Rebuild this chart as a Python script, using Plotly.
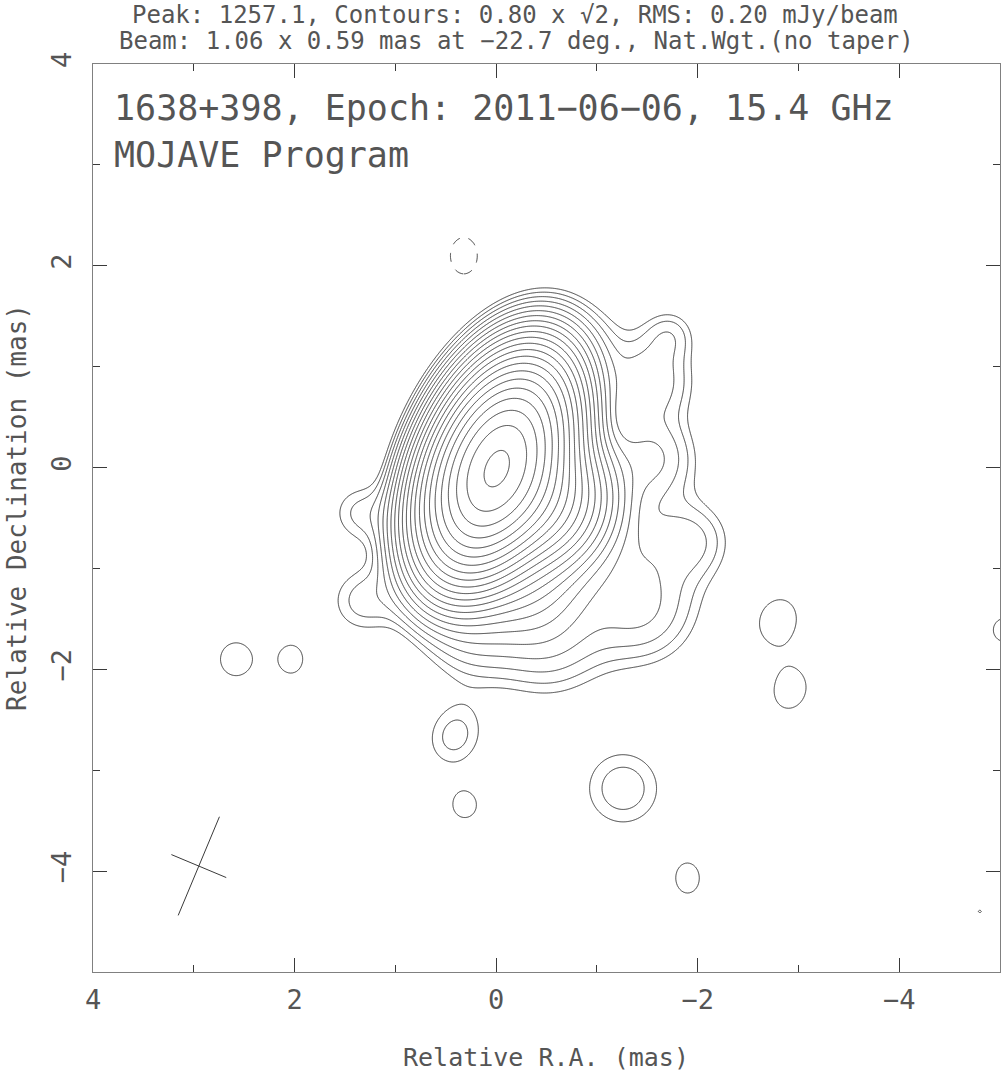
import numpy as np
import plotly.graph_objects as go

# Gaussian model components of the brightness distribution (mas, mJy/beam)
comp_x    = [0.00, -0.40, -0.20, -0.50, 0.25, -1.55, -1.55, -1.72, -1.95, -1.45, 1.32, 1.35,
             -1.30, -1.05,
             2.58, 2.03, 0.41, 0.31, -1.26, -1.90, -2.80, -2.92, -5.05, -4.80]
comp_y    = [0.00, -0.30, -1.00, -1.65, -1.70, 0.10, 0.85, 1.32, -0.72, -1.45, -1.32, -0.45,
             -0.90, 1.20,
             -1.90, -1.90, -2.66, -3.35, -3.18, -4.07, -1.52, -2.21, -1.61, -4.40]
comp_peak = [1215., 110., 10., 2.2, 1.5, 2.2, 2.0, 1.2, 1.3, 1.6, 1.3, 1.2,
             1.6, 0.6,
             1.08, 1.08, 1.30, 1.05, 1.42, 1.08, 1.08, 1.08, 1.08, 0.85]
comp_smaj = [0.49, 0.33, 0.35, 0.40, 0.30, 0.28, 0.28, 0.18, 0.25, 0.35, 0.25, 0.22,
             0.50, 0.30,
             0.21, 0.17, 0.26, 0.16, 0.31, 0.19, 0.27, 0.23, 0.15, 0.05]
comp_smin = [0.28, 0.33, 0.35, 0.40, 0.30, 0.28, 0.28, 0.18, 0.25, 0.35, 0.25, 0.22,
             0.50, 0.30,
             0.20, 0.14, 0.22, 0.15, 0.31, 0.15, 0.22, 0.19, 0.15, 0.05]
comp_pa   = [-22.7, 0, 0, 0, 0, 0, 0, 0, 0, 0, 0, 0,
             0, 0,
             0, 0, -20, 0, 0, 0, -20, -20, 0, 0]

# negative (dashed) feature
neg_x, neg_y, neg_peak, neg_smaj, neg_smin = [0.32], [2.10], [-1.0], [0.27], [0.20]

# contour levels: base * sqrt(2)^n
base_level = 0.80
n_levels = 22

# restoring beam
beam_maj, beam_min, beam_pa = 1.06, 0.59, -22.7
beam_pos = (2.95, -3.95)

x_ticks = [4, 2, 0, -2, -4]
y_ticks = [4, 2, 0, -2, -4]

header1 = "Peak: 1257.1, Contours: 0.80 x \u221a2, RMS: 0.20 mJy/beam"
header2 = "Beam: 1.06 x 0.59 mas at \u221222.7 deg., Nat.Wgt.(no taper)"
title1 = "1638+398, Epoch: 2011\u221206\u221206, 15.4 GHz"
title2 = "MOJAVE Program"

# ---------------- build image ----------------
gx = np.round(np.arange(-5.3, 4.3, 0.02), 4)
gy = np.round(np.arange(-5.3, 4.3, 0.02), 4)
X, Y = np.meshgrid(gx, gy)


def gauss(xc, yc, p, smaj, smin, pa):
    t = np.deg2rad(pa)
    dx, dy = X - xc, Y - yc
    u = dx * np.sin(t) + dy * np.cos(t)
    v = dx * np.cos(t) - dy * np.sin(t)
    return p * np.exp(-0.5 * ((u / smaj) ** 2 + (v / smin) ** 2))


Z = np.zeros_like(X)
for c in zip(comp_x, comp_y, comp_peak, comp_smaj, comp_smin, comp_pa):
    Z += gauss(*c)
Zn = np.zeros_like(X)
for c in zip(neg_x, neg_y, neg_peak, neg_smaj, neg_smin):
    Zn += gauss(*c, 0)

Zlog = np.where(Z > 1e-6, np.log2(np.clip(Z, 1e-6, None)), -30)
Znlog = np.where(Zn < -1e-6, np.log2(np.clip(-Zn, 1e-6, None)), -30)

lstart = np.log2(base_level)
lend = lstart + 0.5 * (n_levels - 1)

LC = "#3a3a3a"
fig = go.Figure()
fig.add_trace(go.Contour(
    x=gx, y=gy, z=Zlog,
    contours=dict(start=lstart, end=lend, size=0.5, coloring="lines"),
    colorscale=[[0, LC], [1, LC]], showscale=False,
    line=dict(width=1, smoothing=0), hoverinfo="skip"))
fig.add_trace(go.Contour(
    x=gx, y=gy, z=Znlog,
    contours=dict(start=lstart, end=lstart, size=0.5, coloring="lines"),
    colorscale=[[0, LC], [1, LC]], showscale=False,
    line=dict(width=1, dash="dash", smoothing=0), hoverinfo="skip"))

# beam cross
t = np.deg2rad(beam_pa)
bx, by = beam_pos
maj_dx, maj_dy = 0.5 * beam_maj * np.sin(t), 0.5 * beam_maj * np.cos(t)
min_dx, min_dy = 0.5 * beam_min * np.cos(t), -0.5 * beam_min * np.sin(t)
fig.add_trace(go.Scatter(x=[bx - maj_dx, bx + maj_dx, None, bx - min_dx, bx + min_dx],
                         y=[by - maj_dy, by + maj_dy, None, by - min_dy, by + min_dy],
                         mode="lines", line=dict(color=LC, width=1),
                         showlegend=False, hoverinfo="skip"))

FONT = "DejaVu Sans Mono"
TC = "#555555"
AX = "#808080"
axis_common = dict(showgrid=False, zeroline=False, showline=True, linecolor=AX, linewidth=1,
                   mirror="ticks", ticks="inside", ticklen=14, tickwidth=1, tickcolor=LC,
                   minor=dict(ticks="inside", ticklen=7, dtick=1, tickcolor=LC, tickwidth=1),
                   tickfont=dict(family=FONT, size=27, color=TC, weight=300))
fig.update_xaxes(range=[4, -5], tickvals=x_ticks, ticklabelstandoff=4, **axis_common)
fig.update_yaxes(range=[-5, 4], tickvals=y_ticks, tickangle=-90, ticklabelstandoff=10,
                 **axis_common)


# plot area (page px): x 93..1000, y 64..972
def px2paper_x(px):
    return (px - 93) / 907.0


def py2paper_y(py):
    return (972 - py) / 908.0


def note(text, px, py, size, xanchor="center", angle=0):
    return dict(text=text, x=px2paper_x(px), y=py2paper_y(py), xref="paper", yref="paper",
                showarrow=False, xanchor=xanchor, yanchor="middle", textangle=angle,
                font=dict(family=FONT, size=size, color=TC, weight=300))


ann = [
    note(header1, 515, 15, 24),
    note(header2, 516, 41, 24),
    note(title1, 112, 108, 35, xanchor="left"),
    note(title2, 112, 155, 35, xanchor="left"),
    note("Relative R.A. (mas)", 546, 1057, 25),
    note("Relative Declination (mas)", 17, 508, 26, angle=-90),
]

fig.update_layout(width=1001, height=1079, margin=dict(l=93, r=1, t=64, b=107),
                  plot_bgcolor="white", paper_bgcolor="white", showlegend=False,
                  annotations=ann)
fig.write_html("out.html", config={"displayModeBar": False},
               post_script="document.body.style.margin='0';document.body.style.overflow='hidden';")
